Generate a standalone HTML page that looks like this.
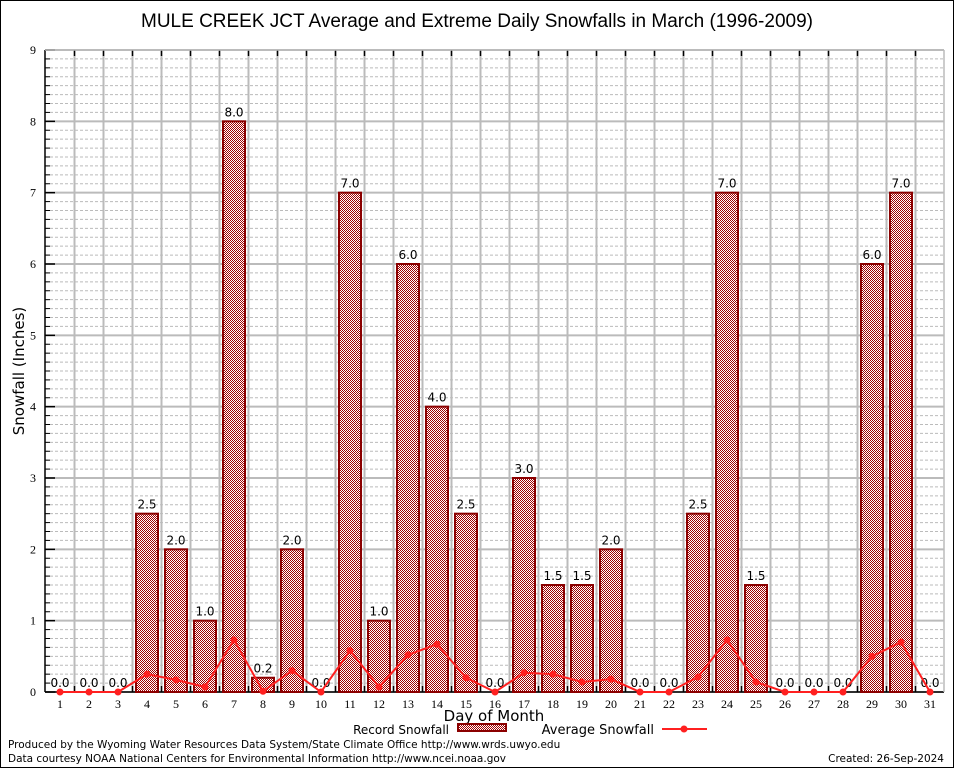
<!DOCTYPE html>
<html><head><meta charset="utf-8"><style>
body{margin:0;background:#fff;}
svg{display:block;font-family:"DejaVu Sans","Liberation Sans",sans-serif;}
</style></head><body>
<svg id="c" width="954" height="768" viewBox="0 0 954 768">
<defs>
<pattern id="chk" width="2" height="2" patternUnits="userSpaceOnUse">
<rect width="2" height="2" fill="#fff"/><rect width="1" height="1" fill="#a00000"/><rect x="1" y="1" width="1" height="1" fill="#a00000"/>
</pattern>
</defs>
<rect x="0.5" y="0.5" width="953" height="767" fill="#fff" stroke="#000"/>
<text x="477" y="27" font-size="19" text-anchor="middle" font-family="Liberation Sans, sans-serif">MULE CREEK JCT Average and Extreme Daily Snowfalls in March (1996-2009)</text>
<g id="grid"></g>
<g id="bars"></g>
<g id="line"></g>
<text transform="translate(24,371) rotate(-90)" font-size="15" text-anchor="middle">Snowfall (Inches)</text>
<text x="494" y="721" font-size="15" text-anchor="middle">Day of Month</text>
<g>
<text x="449" y="734" font-size="12" text-anchor="end">Record Snowfall</text>
<rect x="458" y="724" width="48" height="7" fill="url(#chk)" stroke="#8b0000" stroke-width="2"/>
<text x="654" y="734" font-size="13" text-anchor="end">Average Snowfall</text>
<line x1="662" y1="729" x2="707" y2="729" stroke="#ff2020" stroke-width="2"/>
<circle cx="684" cy="729" r="3.5" fill="#ff2020"/>
</g>
<text x="8" y="748" font-size="10.5">Produced by the Wyoming Water Resources Data System/State Climate Office http://www.wrds.uwyo.edu</text>
<text x="8" y="762" font-size="10.5">Data courtesy NOAA National Centers for Environmental Information http://www.ncei.noaa.gov</text>
<text x="944" y="762" font-size="10.5" text-anchor="end">Created:  26-Sep-2024</text>
</svg>
<script>
const days=[1,2,3,4,5,6,7,8,9,10,11,12,13,14,15,16,17,18,19,20,21,22,23,24,25,26,27,28,29,30,31];
const records=[0,0,0,2.5,2.0,1.0,8.0,0.2,2.0,0,7.0,1.0,6.0,4.0,2.5,0,3.0,1.5,1.5,2.0,0,0,2.5,7.0,1.5,0,0,0,6.0,7.0,0];
const averages=[0,0,0,0.25,0.17,0.07,0.73,0.01,0.3,0,0.58,0.07,0.52,0.67,0.2,0,0.27,0.25,0.14,0.18,0,0,0.21,0.73,0.14,0,0,0,0.5,0.7,0];
const yTicks=[0,1,2,3,4,5,6,7,8,9];
const NS='http://www.w3.org/2000/svg';
const L=45,R=944,T=50,B=692,YMAX=9;
const x=d=>60+(d-1)*29;
const y=v=>B-(v/YMAX)*(B-T);
function mk(p,tag,at){const e=document.createElementNS(NS,tag);for(const k in at)e.setAttribute(k,at[k]);p.appendChild(e);return e;}
const g=document.getElementById('grid'),gb=document.getElementById('bars'),gl=document.getElementById('line');
for(let i=0;i<YMAX*8;i++){if(i%8===0)continue;const yy=y(i/8);
const e=mk(g,'line',{x1:L,x2:R,y1:yy,y2:yy,stroke:'#bbb','stroke-dasharray':'3,2','stroke-width':1});


mk(g,'line',{x1:L,x2:L+5,y1:yy,y2:yy,stroke:'#000'});}
yTicks.forEach(v=>{const yy=y(v);
const e=mk(g,'line',{x1:L,x2:R,y1:yy,y2:yy,stroke:'#bbb','stroke-width':2});


mk(g,'line',{x1:L,x2:L+10,y1:yy,y2:yy,stroke:'#000','stroke-width':1.5});
const t=mk(g,'text',{x:36,y:yy+4,'font-size':12,'text-anchor':'end','font-family':'Liberation Serif, serif'});t.textContent=v;

});
days.forEach(d=>{if(d<31){const xx=x(d)+14.5;
const e=mk(g,'line',{x1:xx,x2:xx,y1:T,y2:B,stroke:'#bbb','stroke-width':2});


mk(g,'line',{x1:xx,x2:xx,y1:T,y2:T+6,stroke:'#000','stroke-width':1.5});
mk(g,'line',{x1:xx,x2:xx,y1:B,y2:B-6,stroke:'#000','stroke-width':1.5});}
const t=mk(g,'text',{x:x(d),y:708,'font-size':12,'text-anchor':'middle','font-family':'Liberation Serif, serif'});t.textContent=d;

});
mk(g,'line',{x1:L,x2:L,y1:T,y2:B,stroke:'#000','stroke-width':1.5});
mk(g,'line',{x1:L,x2:R,y1:B,y2:B,stroke:'#000','stroke-width':1.5});
mk(g,'line',{x1:L,x2:R,y1:T,y2:T,stroke:'#bbb','stroke-width':1.5});
mk(g,'line',{x1:R,x2:R,y1:T,y2:B,stroke:'#bbb','stroke-width':1.5});
days.forEach((d,i)=>{const v=records[i];
if(v>0){const r=mk(gb,'rect',{x:x(d)-11,y:y(v),width:22,height:B-y(v),fill:'url(#chk)',stroke:'#8b0000','stroke-width':2});

}
const t=mk(gb,'text',{x:x(d),y:y(v)-5,'font-size':12,'text-anchor':'middle'});t.textContent=v.toFixed(1);

});
const pts=days.map((d,i)=>x(d)+','+y(averages[i])).join(' ');
const pl=mk(gl,'polyline',{points:pts,fill:'none',stroke:'#ff2020','stroke-width':2});


days.forEach((d,i)=>{const c=mk(gl,'circle',{cx:x(d),cy:y(averages[i]),r:3.5,fill:'#ff2020'});

});
</script>
</body></html>
